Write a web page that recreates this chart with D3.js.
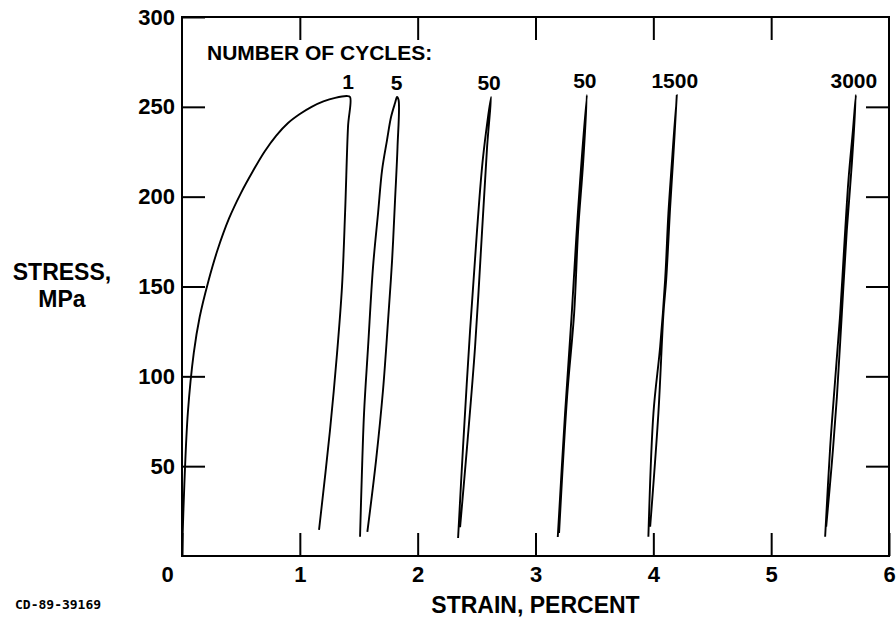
<!DOCTYPE html>
<html>
<head>
<meta charset="utf-8">
<script src="https://cdn.jsdelivr.net/npm/d3@7"></script>
<style>
  body { margin: 0; background: #fff; }
  text { font-family: "Liberation Sans", Arial, sans-serif; font-weight: bold; fill: #000; }
</style>
</head>
<body>
<div id="chart"></div>
<script>
// cycle labels, one per recorded loop
const cycleLabels = ["1", "5", "50", "50", "1500", "3000"];

// strain (percent) / stress (MPa)
const strain1 = [0, 0.02, 0.05, 0.1, 0.15, 0.22, 0.3, 0.4, 0.5, 0.6, 0.7, 0.8, 0.9, 1.0, 1.1, 1.2, 1.3, 1.4, 1.426,
                 1.409, 1.384, 1.358, 1.316, 1.256, 1.163];
const stress1 = [0, 40, 80, 113, 133, 152, 170, 188, 202, 214, 225, 234, 241, 246, 250, 253, 255, 256, 255.5,
                 239, 191, 150, 113, 70, 14.5];

const strain5 = [1.511, 1.525, 1.545, 1.579, 1.621, 1.664, 1.698, 1.740, 1.774, 1.808, 1.825,
                 1.838, 1.829, 1.808, 1.783, 1.749, 1.706, 1.647, 1.573];
const stress5 = [10.7, 42.3, 79.6, 116.3, 160.8, 190.9, 214.8, 231.5, 244.3, 252.1, 255.5,
                 253.8, 227.6, 198.1, 164.7, 131.3, 92.4, 53.4, 13.4];

const strain50a = [2.343, 2.385, 2.445, 2.504, 2.555, 2.623, 2.589, 2.547, 2.487, 2.419, 2.360];
const stress50a = [10, 60.7, 125.8, 181.4, 222, 255.5, 227.6, 181.4, 116.3, 60.7, 16.1];

const strain50b = [3.189, 3.251, 3.308, 3.345, 3.379, 3.436, 3.404, 3.362, 3.328, 3.268, 3.200];
const stress50b = [10.6, 79.6, 135.2, 175.9, 209.3, 256.6, 218.7, 181.4, 135.2, 88.5, 12.8];

const strain1500 = [3.958, 4.001, 4.058, 4.100, 4.128, 4.157, 4.199, 4.166, 4.143, 4.109, 4.086, 4.043, 3.973];
const stress1500 = [10.7, 79.6, 116.5, 153.6, 190.9, 218.7, 256.6, 218.7, 194.4, 153.6, 135.2, 79.6, 16.3];

const strain3000 = [5.458, 5.501, 5.543, 5.586, 5.620, 5.656, 5.694, 5.719,
                    5.685, 5.642, 5.600, 5.558, 5.515, 5.467];
const stress3000 = [10.7, 60.8, 98, 135.1, 172.2, 209.3, 237.1, 256.6,
                    218.7, 181.4, 135.2, 88.7, 51.8, 16.3];

const xTicks = [0, 1, 2, 3, 4, 5, 6];
const yTicks = [50, 100, 150, 200, 250, 300];

const width = 896, height = 624;
const margin = {top: 17, right: 7, bottom: 68, left: 182};

const loops = [
  [strain1, stress1], [strain5, stress5], [strain50a, stress50a],
  [strain50b, stress50b], [strain1500, stress1500], [strain3000, stress3000]
].map(([xs, ys], i) => ({
  label: cycleLabels[i],
  points: xs.map((x, j) => [x, ys[j]])
}));

const x = d3.scaleLinear().domain([0, 6]).range([margin.left, width - margin.right]);
const y = d3.scaleLinear().domain([0, 300]).range([height - margin.bottom, margin.top]);

const svg = d3.select("#chart").append("svg")
    .attr("width", width)
    .attr("height", height);

// frame
svg.append("rect")
    .attr("x", x(0)).attr("y", y(300))
    .attr("width", x(6) - x(0)).attr("height", y(0) - y(300))
    .attr("fill", "none").attr("stroke", "#000").attr("stroke-width", 2);

const tick = 23;

const bottom = svg.append("g")
    .attr("transform", `translate(0,${y(0)})`)
    .call(d3.axisBottom(x).tickValues(xTicks).tickSize(-tick).tickPadding(10).tickFormat(d3.format("d")));
bottom.selectAll("text").filter(d => d === 0).attr("dx", -15);

svg.append("g")
    .attr("transform", `translate(0,${y(300)})`)
    .call(d3.axisTop(x).tickValues(xTicks.slice(1, -1)).tickSize(-tick).tickFormat(""));

svg.append("g")
    .attr("transform", `translate(${x(0)},0)`)
    .call(d3.axisLeft(y).tickValues(yTicks).tickSize(-tick).tickPadding(7));

svg.append("g")
    .attr("transform", `translate(${x(6)},0)`)
    .call(d3.axisRight(y).tickValues(yTicks.slice(0, -1)).tickSize(-tick).tickFormat(""));

svg.selectAll(".domain").remove();
svg.selectAll(".tick line").attr("stroke", "#000").attr("stroke-width", 2);
svg.selectAll(".tick text")
    .style("font-family", "'Liberation Sans', Arial, sans-serif")
    .style("font-weight", "bold")
    .style("font-size", "22px")
    .attr("fill", "#000");

// curves
const line = d3.line()
    .x(d => x(d[0]))
    .y(d => y(d[1]))
    .curve(d3.curveCatmullRom.alpha(0.5));

svg.append("g")
  .selectAll("path")
  .data(loops)
  .join("path")
    .attr("d", d => line(d.points))
    .attr("fill", "none")
    .attr("stroke", "#000")
    .attr("stroke-width", 1.9)
    .attr("stroke-linejoin", "round");

// loop labels above the peak of each loop
svg.append("g")
  .selectAll("text")
  .data(loops)
  .join("text")
    .attr("x", d => x(d3.max(d.points, p => p[0])) - 2)
    .attr("y", d => y(d3.max(d.points, p => p[1])) - 7)
    .attr("text-anchor", "middle")
    .style("font-size", "21px")
    .text(d => d.label);

svg.append("text")
    .attr("x", 207).attr("y", 60)
    .style("font-size", "21px")
    .text("NUMBER OF CYCLES:");

svg.append("text")
    .attr("x", (x(0) + x(6)) / 2).attr("y", 613)
    .attr("text-anchor", "middle")
    .style("font-size", "23px")
    .text("STRAIN, PERCENT");

svg.append("text")
    .attr("x", 62).attr("y", 280)
    .attr("text-anchor", "middle")
    .style("font-size", "23px")
    .text("STRESS,");
svg.append("text")
    .attr("x", 62).attr("y", 307)
    .attr("text-anchor", "middle")
    .style("font-size", "23px")
    .text("MPa");

svg.append("text")
    .attr("x", 15).attr("y", 609)
    .style("font-family", "'DejaVu Sans Mono', monospace")
    .style("font-size", "13px")
    .text("CD-89-39169");
</script>
</body>
</html>
